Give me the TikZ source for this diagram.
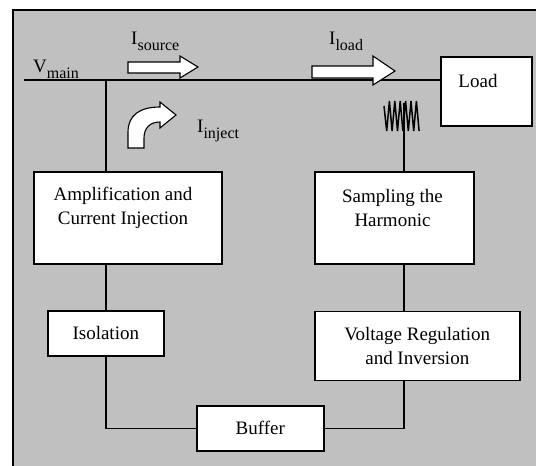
\documentclass[tikz,border=0pt]{standalone}
\usepackage{fontspec}
\setmainfont{Liberation Serif}
\usetikzlibrary{calc}

\definecolor{panelgray}{RGB}{192,192,192}

\newcommand{\lowtxt}[1]{\raisebox{-6.5pt}{\fontsize{16}{16}\selectfont #1}}

\tikzset{
	block/.style={draw, line width=1.6pt, fill=white, inner sep=0pt, align=center},
	wire/.style={line width=1.5pt},
	fatarrow/.style={draw, line width=1.1pt, fill=white, line join=miter},
	squig/.style={line width=1.5pt, line join=miter},
}

\begin{document}
\begin{tikzpicture}[x=1pt, y=-1pt, font=\fontsize{19}{24}\selectfont]

	% ---- frame

	\useasboundingbox (0,0) rectangle (536,466);
	\fill[panelgray] (13,10) rectangle (536,466);
	\draw[wire] (13,466) -- (13,10) -- (536,10);

	% ---- blocks

	\node[block, anchor=north west, minimum width=188pt, minimum height=92pt] (amp) at (33,171) {};
	\node[block, anchor=north west, minimum width=159pt, minimum height=92pt] (smp) at (314,171) {};
	\node[block, anchor=north west, minimum width=91pt, minimum height=69pt] (load) at (440,56) {};
	\node[block, anchor=north west, minimum width=116pt, minimum height=45pt] (iso) at (47,310) {Isolation};
	\node[block, anchor=north west, minimum width=205pt, minimum height=69pt] (volt) at (314,310.5) {Voltage Regulation\\and Inversion};
	\node[block, anchor=north west, minimum width=127pt, minimum height=45pt] (buf) at (196,405) {Buffer};

	% ---- block texts

	\node[align=center, inner sep=0pt] (amptxt) at (123,207.5) {Amplification and\\Current Injection};
	\node[align=center, inner sep=0pt] (smptxt) at (392.5,207.5) {Sampling the\\Harmonic};
	\node[inner sep=0pt] (loadtxt) at (478,81) {Load};

	% ---- coordinates

	\coordinate (vstart) at (24,80);
	\coordinate (tap) at (iso.north |- vstart);
	\coordinate (hb) at (404,133);

	% ---- wires

	\draw[wire] (vstart) -- (vstart -| load.west);
	\draw[wire] (tap) -- (tap |- amp.north);
	\draw[wire] (iso.north |- amp.south) -- (iso.north);
	\draw[wire] (iso.south) |- (buf.west);
	\draw[wire] (buf.east) -| (hb |- volt.south);
	\draw[wire] (hb |- smp.south) -- (hb |- volt.north);
	\draw[wire] (hb) -- (hb |- smp.north);

	% ---- harmonic squiggle

	\draw[squig] (384,106) \foreach \k in {1,...,13} { -- ({384+2.7*\k}, {(mod(\k,2)==1) ? 131 : 101}) };
	\draw[squig] (hb) -- (404,103);

	% ---- current arrows

	\draw[fatarrow] (128,62) -- (180,62) -- (180,56) -- (198,67) -- (180,78) -- (180,73) -- (128,73) -- cycle;
	\draw[fatarrow] (312,66) -- (373,66) -- (373,56) -- (395,71) -- (373,85) -- (373,78) -- (312,78) -- cycle;
	\draw[fatarrow] (128,148) -- (128,132) .. controls (128,115) and (140,107) .. (160,107)
		-- (160,102) -- (176,115) -- (160,128) -- (160,122)
		.. controls (150,122) and (144,128) .. (144,138) -- (144,148) -- cycle;

	% ---- labels

	\node[anchor=base west, inner sep=0pt] (vmain) at (33,72) {V\lowtxt{main}};
	\node[anchor=base west, inner sep=0pt] (isrc) at (131,44) {I\lowtxt{source}};
	\node[anchor=base west, inner sep=0pt] (iload) at (329,44) {I\lowtxt{load}};
	\node[anchor=base west, inner sep=0pt] (iinj) at (197,132) {I\lowtxt{inject}};

\end{tikzpicture}
\end{document}
